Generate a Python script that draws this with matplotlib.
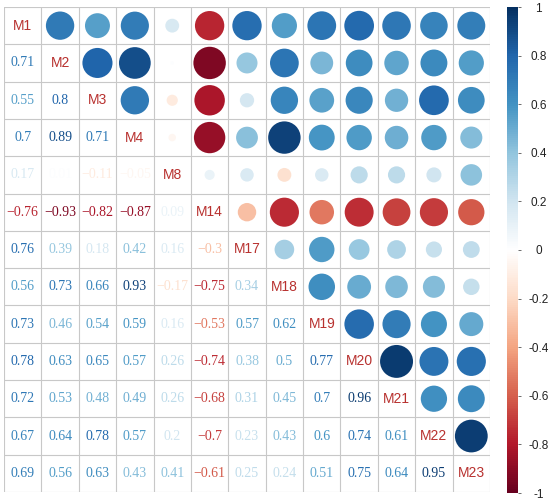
import numpy as np
import matplotlib
matplotlib.use("Agg")
import matplotlib.pyplot as plt
from matplotlib.patches import Circle
from matplotlib.colors import Normalize, LinearSegmentedColormap
from matplotlib.cm import ScalarMappable

labels = ['M1', 'M2', 'M3', 'M4', 'M8', 'M14', 'M17', 'M18', 'M19',
          'M20', 'M21', 'M22', 'M23']

# lower triangle, row by row (row i has i values)
lower = [
    [],
    [0.71],
    [0.55, 0.8],
    [0.7, 0.89, 0.71],
    [0.17, 0.01, -0.11, -0.05],
    [-0.76, -0.93, -0.82, -0.87, 0.09],
    [0.76, 0.39, 0.18, 0.42, 0.16, -0.3],
    [0.56, 0.73, 0.66, 0.93, -0.17, -0.75, 0.34],
    [0.73, 0.46, 0.54, 0.59, 0.16, -0.53, 0.57, 0.62],
    [0.78, 0.63, 0.65, 0.57, 0.26, -0.74, 0.38, 0.5, 0.77],
    [0.72, 0.53, 0.48, 0.49, 0.26, -0.68, 0.31, 0.45, 0.7, 0.96],
    [0.67, 0.64, 0.78, 0.57, 0.2, -0.7, 0.23, 0.43, 0.6, 0.74, 0.61],
    [0.69, 0.56, 0.63, 0.43, 0.41, -0.61, 0.25, 0.24, 0.51, 0.75, 0.64, 0.95],
]

cbar_ticks = [-1, -0.8, -0.6, -0.4, -0.2, 0, 0.2, 0.4, 0.6, 0.8, 1]

n = len(labels)
corr = np.eye(n)
for i, row in enumerate(lower):
    for j, v in enumerate(row):
        corr[i, j] = v
        corr[j, i] = v

# corrplot's COL2('RdBu') palette
cmap = LinearSegmentedColormap.from_list('rdbu', [
    '#67001F', '#B2182B', '#D6604D', '#F4A582', '#FDDBC7', '#FFFFFF',
    '#D1E5F0', '#92C5DE', '#4393C3', '#2166AC', '#053061'])
norm = Normalize(vmin=-1, vmax=1)
label_col = '#B8312F'
grid_col = '#C8C8C8'

fig = plt.figure(figsize=(5.5, 5.01), dpi=100)
ax = fig.add_axes([4 / 550, 9 / 501, 486 / 550, 485 / 501])
ax.set_xlim(0, n)
ax.set_ylim(n, 0)
ax.axis('off')

for k in range(n + 1):
    ax.plot([0, n], [k, k], color=grid_col, lw=0.8, zorder=1)
    ax.plot([k, k], [0, n], color=grid_col, lw=0.8, zorder=1)

for i in range(n):
    for j in range(n):
        v = corr[i, j]
        cx, cy = j + 0.5, i + 0.5
        if i == j:
            ax.text(cx, cy, labels[i], ha='center', va='center', fontsize=10,
                    color=label_col, family='Liberation Sans')
        elif j > i:
            r = 0.45 * np.sqrt(abs(v))
            ax.add_patch(Circle((cx, cy), r, facecolor=cmap(norm(v)),
                                edgecolor='none', zorder=2))
        else:
            txt = ('%.2f' % v).rstrip('0').rstrip('.')
            txt = txt.replace('-', '\u2212')
            ax.text(cx, cy, txt, ha='center', va='center', fontsize=10,
                    color=cmap(norm(v)), family='Liberation Serif')

cax = fig.add_axes([507 / 550, 8 / 501, 11 / 550, 486 / 501])
cb = fig.colorbar(ScalarMappable(norm=norm, cmap=cmap), cax=cax)
cb.set_ticks(cbar_ticks)
cb.set_ticklabels(['%g' % t for t in cbar_ticks])
cb.outline.set_visible(False)
cax.tick_params(axis='y', length=2.5, width=0.6, color='#555555', pad=12.5,
                labelsize=8.5, labelcolor='#222222')
for t in cax.get_yticklabels():
    t.set_family('Liberation Sans')
    t.set_horizontalalignment('center')

fig.savefig('out.png', dpi=100)
